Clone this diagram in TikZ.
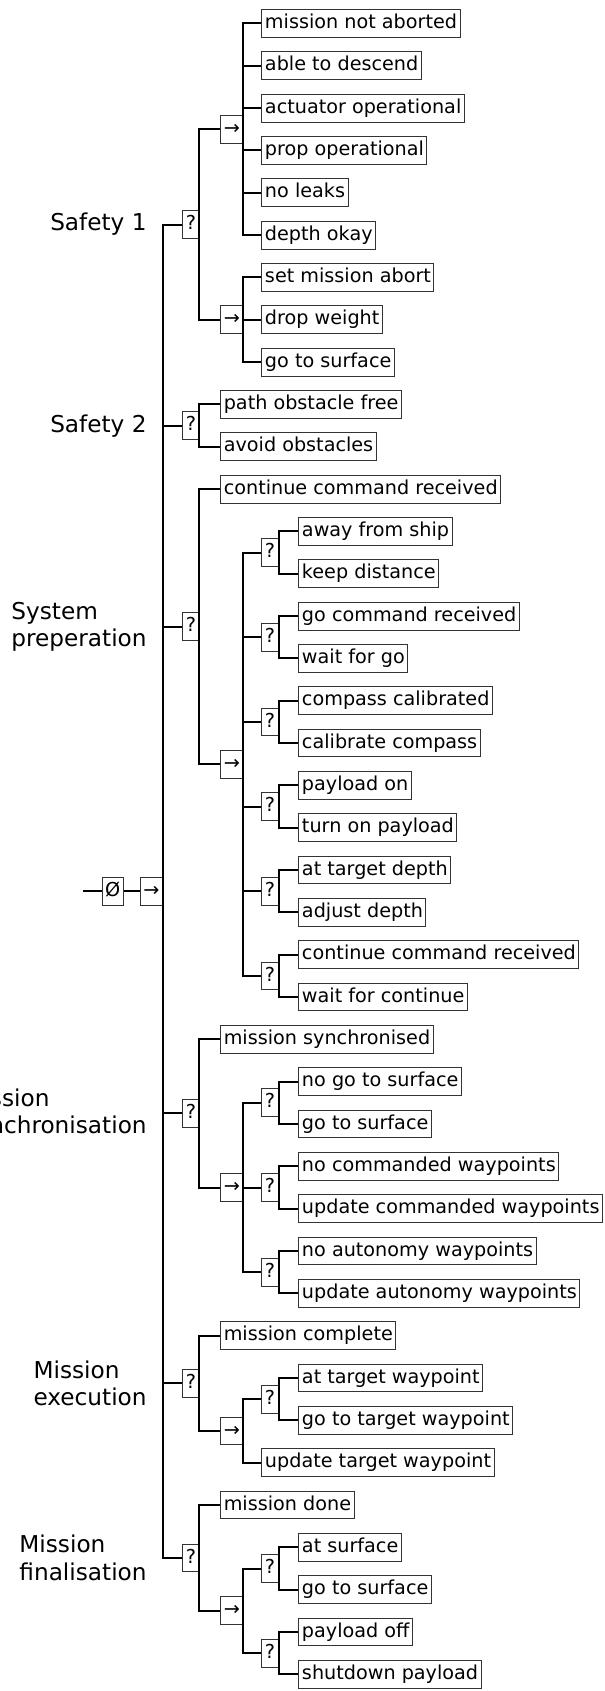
\documentclass[tikz,border=0pt]{standalone}
\usepackage{fontspec}
\setmainfont{DejaVu Sans}
\newcommand{\boxfont}{\fontsize{9.6}{11}\selectfont}
\newcommand{\phasefont}{\fontsize{11.6}{13.8}\selectfont}

\begin{document}
\begin{tikzpicture}[x=0.5pt, y=-21.165pt,
    box/.style={draw=black!80, line width=0.5pt, fill=white, anchor=west,
      inner xsep=1.5pt, inner ysep=2.1pt, text height=7.4pt, text depth=2.3pt,
      font=\boxfont},
    sel/.style={box},
    seq/.style={box},
    leaf/.style={box},
    phase/.style={anchor=east, align=left, font=\phasefont, inner sep=0pt},
    link/.style={line width=1pt}]
  \useasboundingbox (0,0.445) rectangle (605,40.394);

  % Root
  \coordinate (start) at (83.3,21.5);
  \node[box] (nil) at (101.7,21.5) {Ø};
  \node[seq] (root) at (140,21.5) {→};

  % Phase labels
  \node[phase] (lbls1) at (147,5.75) {Safety 1};
  \node[phase] (lbls2) at (147,10.5) {Safety 2};
  \node[phase] (lblsp) at (147,15.25) {System\\preperation};
  \node[phase] (lblms) at (147,26.75) {Mission\\synchronisation};
  \node[phase] (lblme) at (147,33.125) {Mission\\execution};
  \node[phase] (lblmf) at (147,37.25) {Mission\\finalisation};

  % Safety 1
  \node[sel] (s1) at (182.3,5.75) {?};
  \node[seq] (s1chk) at (220.3,3.5) {→};
  \node[leaf] (s1a) at (261.5,1) {mission not aborted};
  \node[leaf] (s1b) at (261.5,2) {able to descend};
  \node[leaf] (s1c) at (261.5,3) {actuator operational};
  \node[leaf] (s1d) at (261.5,4) {prop operational};
  \node[leaf] (s1e) at (261.5,5) {no leaks};
  \node[leaf] (s1f) at (261.5,6) {depth okay};
  \node[seq] (s1act) at (220.3,8) {→};
  \node[leaf] (s1g) at (261.5,7) {set mission abort};
  \node[leaf] (s1h) at (261.5,8) {drop weight};
  \node[leaf] (s1i) at (261.5,9) {go to surface};

  % Safety 2
  \node[sel] (s2) at (182.3,10.5) {?};
  \node[leaf] (s2a) at (220.3,10) {path obstacle free};
  \node[leaf] (s2b) at (220.3,11) {avoid obstacles};

  % System preperation
  \node[sel] (sp) at (182.3,15.25) {?};
  \node[leaf] (spa) at (220.3,12) {continue command received};
  \node[seq] (spseq) at (220.3,18.5) {→};
  \node[sel] (sp1) at (261.5,13.5) {?};
  \node[leaf] (sp1a) at (298.5,13) {away from ship};
  \node[leaf] (sp1b) at (298.5,14) {keep distance};
  \node[sel] (sp2) at (261.5,15.5) {?};
  \node[leaf] (sp2a) at (298.5,15) {go command received};
  \node[leaf] (sp2b) at (298.5,16) {wait for go};
  \node[sel] (sp3) at (261.5,17.5) {?};
  \node[leaf] (sp3a) at (298.5,17) {compass calibrated};
  \node[leaf] (sp3b) at (298.5,18) {calibrate compass};
  \node[sel] (sp4) at (261.5,19.5) {?};
  \node[leaf] (sp4a) at (298.5,19) {payload on};
  \node[leaf] (sp4b) at (298.5,20) {turn on payload};
  \node[sel] (sp5) at (261.5,21.5) {?};
  \node[leaf] (sp5a) at (298.5,21) {at target depth};
  \node[leaf] (sp5b) at (298.5,22) {adjust depth};
  \node[sel] (sp6) at (261.5,23.5) {?};
  \node[leaf] (sp6a) at (298.5,23) {continue command received};
  \node[leaf] (sp6b) at (298.5,24) {wait for continue};

  % Mission synchronisation
  \node[sel] (ms) at (182.3,26.75) {?};
  \node[leaf] (msa) at (220.3,25) {mission synchronised};
  \node[seq] (msseq) at (220.3,28.5) {→};
  \node[sel] (ms1) at (261.5,26.5) {?};
  \node[leaf] (ms1a) at (298.5,26) {no go to surface};
  \node[leaf] (ms1b) at (298.5,27) {go to surface};
  \node[sel] (ms2) at (261.5,28.5) {?};
  \node[leaf] (ms2a) at (298.5,28) {no commanded waypoints};
  \node[leaf] (ms2b) at (298.5,29) {update commanded waypoints};
  \node[sel] (ms3) at (261.5,30.5) {?};
  \node[leaf] (ms3a) at (298.5,30) {no autonomy waypoints};
  \node[leaf] (ms3b) at (298.5,31) {update autonomy waypoints};

  % Mission execution
  \node[sel] (me) at (182.3,33.125) {?};
  \node[leaf] (mea) at (220.3,32) {mission complete};
  \node[seq] (meseq) at (220.3,34.25) {→};
  \node[sel] (me1) at (261.5,33.5) {?};
  \node[leaf] (me1a) at (298.5,33) {at target waypoint};
  \node[leaf] (me1b) at (298.5,34) {go to target waypoint};
  \node[leaf] (meb) at (261.5,35) {update target waypoint};

  % Mission finalisation
  \node[sel] (mf) at (182.3,37.25) {?};
  \node[leaf] (mfa) at (220.3,36) {mission done};
  \node[seq] (mfseq) at (220.3,38.5) {→};
  \node[sel] (mf1) at (261.5,37.5) {?};
  \node[leaf] (mf1a) at (298.5,37) {at surface};
  \node[leaf] (mf1b) at (298.5,38) {go to surface};
  \node[sel] (mf2) at (261.5,39.5) {?};
  \node[leaf] (mf2a) at (298.5,39) {payload off};
  \node[leaf] (mf2b) at (298.5,40) {shutdown payload};

  % Connectors
  \draw[link] (start) -- (nil.west) (nil.east) -- (root.west);
  \draw[link] (s1.west) -| (root.east) |- (mf.west)
    (root.east |- s2.west) -- (s2.west)
    (root.east |- sp.west) -- (sp.west)
    (root.east |- ms.west) -- (ms.west)
    (root.east |- me.west) -- (me.west);

  \draw[link] (s1chk.west) -| (s1.east) |- (s1act.west);
  \draw[link] (s1a.west) -| (s1chk.east) |- (s1f.west)
    (s1chk.east |- s1b.west) -- (s1b.west)
    (s1chk.east |- s1c.west) -- (s1c.west)
    (s1chk.east |- s1d.west) -- (s1d.west)
    (s1chk.east |- s1e.west) -- (s1e.west);
  \draw[link] (s1g.west) -| (s1act.east) |- (s1i.west)
    (s1act.east |- s1h.west) -- (s1h.west);

  \draw[link] (s2a.west) -| (s2.east) |- (s2b.west);

  \draw[link] (spa.west) -| (sp.east) |- (spseq.west);
  \draw[link] (sp1.west) -| (spseq.east) |- (sp6.west)
    (spseq.east |- sp2.west) -- (sp2.west)
    (spseq.east |- sp3.west) -- (sp3.west)
    (spseq.east |- sp4.west) -- (sp4.west)
    (spseq.east |- sp5.west) -- (sp5.west);
  \draw[link] (sp1a.west) -| (sp1.east) |- (sp1b.west);
  \draw[link] (sp2a.west) -| (sp2.east) |- (sp2b.west);
  \draw[link] (sp3a.west) -| (sp3.east) |- (sp3b.west);
  \draw[link] (sp4a.west) -| (sp4.east) |- (sp4b.west);
  \draw[link] (sp5a.west) -| (sp5.east) |- (sp5b.west);
  \draw[link] (sp6a.west) -| (sp6.east) |- (sp6b.west);

  \draw[link] (msa.west) -| (ms.east) |- (msseq.west);
  \draw[link] (ms1.west) -| (msseq.east) |- (ms3.west)
    (msseq.east |- ms2.west) -- (ms2.west);
  \draw[link] (ms1a.west) -| (ms1.east) |- (ms1b.west);
  \draw[link] (ms2a.west) -| (ms2.east) |- (ms2b.west);
  \draw[link] (ms3a.west) -| (ms3.east) |- (ms3b.west);

  \draw[link] (mea.west) -| (me.east) |- (meseq.west);
  \draw[link] (me1.west) -| (meseq.east) |- (meb.west);
  \draw[link] (me1a.west) -| (me1.east) |- (me1b.west);

  \draw[link] (mfa.west) -| (mf.east) |- (mfseq.west);
  \draw[link] (mf1.west) -| (mfseq.east) |- (mf2.west);
  \draw[link] (mf1a.west) -| (mf1.east) |- (mf1b.west);
  \draw[link] (mf2a.west) -| (mf2.east) |- (mf2b.west);
\end{tikzpicture}
\end{document}
